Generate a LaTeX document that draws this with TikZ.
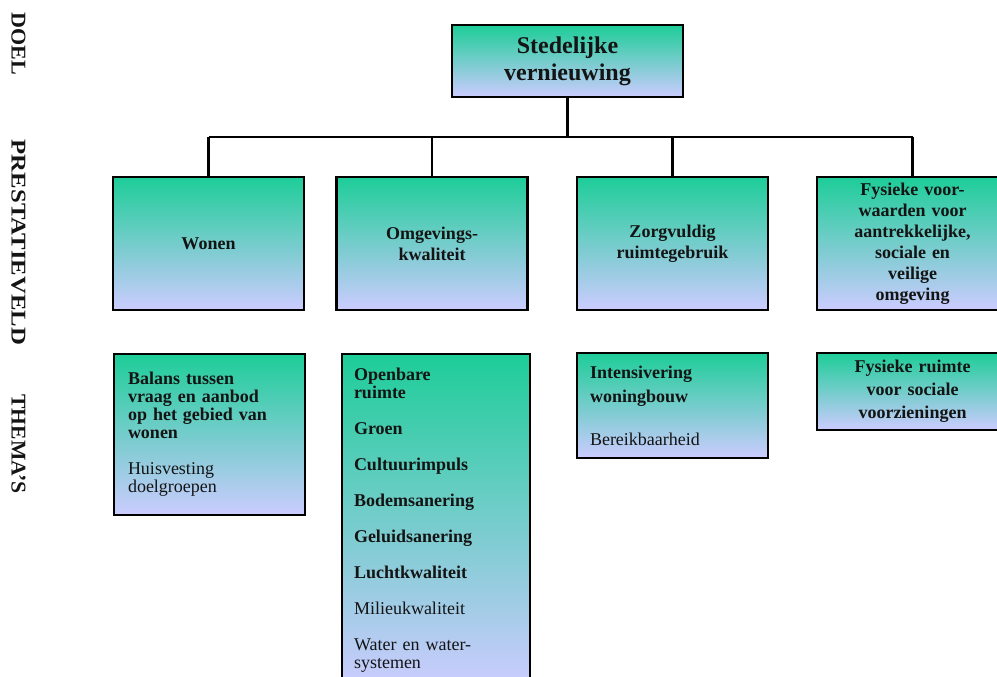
\documentclass[tikz,border=0pt]{standalone}
\usepackage{fontspec}
\setmainfont{Liberation Serif}
\usetikzlibrary{positioning}
\definecolor{seagreen}{HTML}{1DCD98}
\definecolor{lavender}{HTML}{CCCCFF}
\definecolor{ink}{HTML}{141414}
\tikzset{
  link/.style={draw=black,line width=2.2pt},
  box/.style={draw=black,line width=2.2pt,top color=seagreen,bottom color=lavender,
    text=ink,inner sep=0pt,align=center},
  goalbox/.style={box,font=\fontsize{24}{27}\selectfont\bfseries,
    minimum width=231pt,minimum height=72pt},
  fieldbox/.style={box,font=\fontsize{18}{21}\selectfont\bfseries,
    minimum width=191pt,minimum height=133pt},
  themebox/.style={box,align=left,font=\fontsize{18}{18}\selectfont,
    minimum width=191pt},
  sidelabel/.style={rotate=-90,font=\fontsize{21}{23}\selectfont\bfseries,text=ink},
}

\begin{document}
\begin{tikzpicture}[x=1pt,y=-1pt]
\useasboundingbox (0,0) rectangle (997,677);
% levels
\node[sidelabel] (doel-lbl) at (18.5,43.5) {\addfontfeature{FakeStretch=1.05}DOEL};
\node[sidelabel] (veld-lbl) at (18.5,242.5) {\addfontfeature{FakeStretch=1.18}PRESTATIEVELD};
\node[sidelabel] (thema-lbl) at (18.5,444) {\addfontfeature{FakeStretch=1.03}THEMA’S};
% goal
\node[goalbox,text width=200pt] (goal) at (567.5,61) {Stedelijke\\vernieuwing};
% fields
\node[fieldbox,text width=170pt] (wonen) at (208.5,243.5) {Wonen};
\node[fieldbox,text width=170pt] (omgeving) at (432,243.5) {Omgevings-\\kwaliteit};
\node[fieldbox,text width=170pt] (zorg) at (672.5,243.5) {Zorgvuldig\\ruimtegebruik};
\node[fieldbox,text width=170pt] (fysiek) at (912.5,243.5) {Fysieke voor-\\waarden voor\\aantrekkelijke,\\sociale en\\veilige\\omgeving};
\coordinate (bar) at (567.5,137);
\draw[link] (goal.south) -- (bar);
\draw[link] (bar -| wonen.north) -- (bar -| fysiek.north);
\foreach \n in {wonen,omgeving,zorg,fysiek}
  \draw[link] (bar -| \n.north) -- (\n.north);
% themes
\node[themebox,text width=163pt,minimum height=161pt] (wonen-th) at (209.5,434.5)
  {\textbf{Balans tussen\\vraag en aanbod\\op het gebied van\\wonen}\\[18pt]Huisvesting\\doelgroepen};
\node[themebox,text width=164pt,minimum width=188pt,minimum height=332pt] (omgeving-th) at (436,520)
  {\textbf{Openbare\\ruimte}\\[18pt]\textbf{Groen}\\[18pt]\textbf{Cultuurimpuls}\\[18pt]\textbf{Bodemsanering}\\[18pt]\textbf{Geluidsanering}\\[18pt]\textbf{Luchtkwaliteit}\\[18pt]Milieukwaliteit\\[18pt]Water en water-\\systemen};
\node[themebox,text width=165pt,minimum height=105pt,font=\fontsize{18}{24}\selectfont] (zorg-th) at (672.5,405.5)
  {\textbf{Intensivering\\woningbouw}\\[19pt]Bereikbaarheid};
\node[themebox,align=center,text width=170pt,minimum height=77pt,font=\fontsize{18}{23}\selectfont\bfseries] (fysiek-th) at (912.5,391.5)
  {Fysieke ruimte\\voor sociale\\voorzieningen};
\end{tikzpicture}
\end{document}
